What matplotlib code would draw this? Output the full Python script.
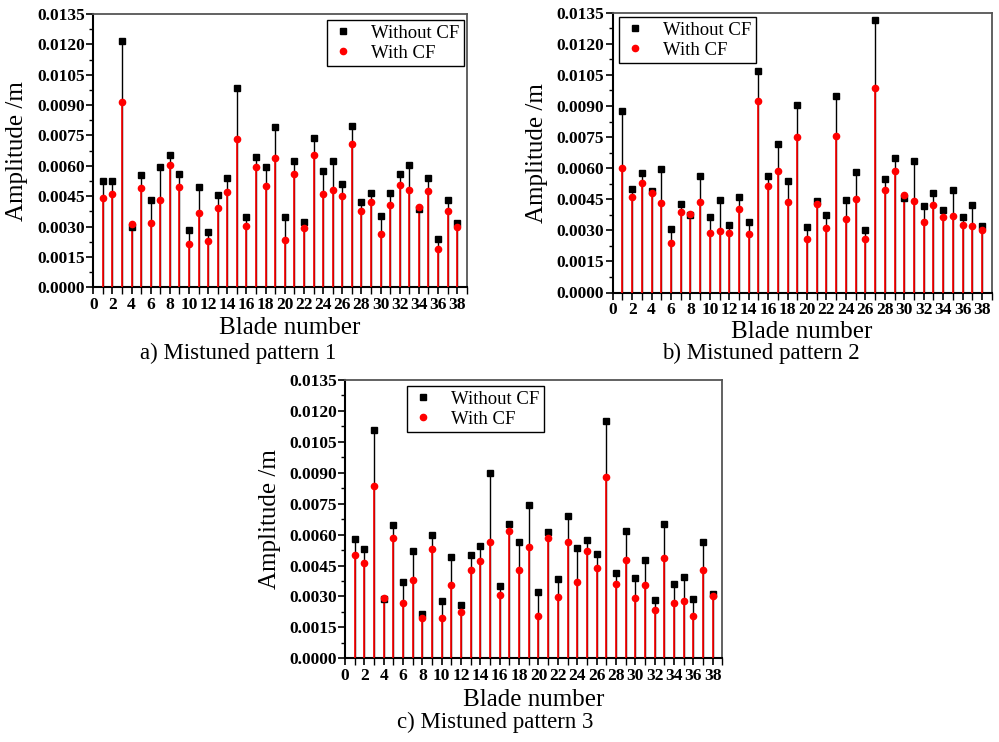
import matplotlib
matplotlib.use("Agg")
import matplotlib.pyplot as plt
import numpy as np
from matplotlib.ticker import MultipleLocator, FormatStrFormatter
from matplotlib.lines import Line2D

plt.rcParams['font.family'] = ['Liberation Serif', 'DejaVu Serif']

blades = np.arange(1, 39)

# mistuned pattern 1
p1_without = [0.00523, 0.00527, 0.01218, 0.00300, 0.00555, 0.00433, 0.00593, 0.00652, 0.00560, 0.00283,
              0.00494, 0.00273, 0.00454, 0.00540, 0.00983, 0.00347, 0.00644, 0.00594, 0.00790, 0.00346,
              0.00622, 0.00324, 0.00737, 0.00573, 0.00624, 0.00512, 0.00795, 0.00420, 0.00467, 0.00352,
              0.00466, 0.00560, 0.00606, 0.00385, 0.00542, 0.00240, 0.00431, 0.00319]
p1_with = [0.00441, 0.00459, 0.00914, 0.00314, 0.00489, 0.00319, 0.00431, 0.00602, 0.00497, 0.00216,
           0.00365, 0.00229, 0.00393, 0.00469, 0.00732, 0.00305, 0.00593, 0.00502, 0.00640, 0.00234,
           0.00561, 0.00295, 0.00653, 0.00462, 0.00479, 0.00451, 0.00708, 0.00375, 0.00421, 0.00265,
           0.00408, 0.00507, 0.00479, 0.00398, 0.00477, 0.00188, 0.00379, 0.00298]

# mistuned pattern 2
p2_without = [0.00876, 0.00500, 0.00577, 0.00490, 0.00596, 0.00304, 0.00426, 0.00374, 0.00562, 0.00363,
              0.00448, 0.00325, 0.00460, 0.00342, 0.01067, 0.00562, 0.00718, 0.00538, 0.00905, 0.00315,
              0.00440, 0.00376, 0.00947, 0.00444, 0.00583, 0.00301, 0.01315, 0.00550, 0.00648, 0.00458,
              0.00635, 0.00416, 0.00479, 0.00397, 0.00493, 0.00365, 0.00424, 0.00323]
p2_with = [0.00599, 0.00461, 0.00530, 0.00482, 0.00434, 0.00238, 0.00389, 0.00379, 0.00435, 0.00286,
           0.00297, 0.00286, 0.00403, 0.00283, 0.00922, 0.00514, 0.00587, 0.00437, 0.00749, 0.00260,
           0.00429, 0.00310, 0.00754, 0.00357, 0.00450, 0.00256, 0.00988, 0.00495, 0.00588, 0.00469,
           0.00442, 0.00339, 0.00423, 0.00366, 0.00368, 0.00325, 0.00321, 0.00302]

# mistuned pattern 3
p3_without = [0.00580, 0.00530, 0.01109, 0.00286, 0.00647, 0.00369, 0.00521, 0.00217, 0.00600, 0.00278,
              0.00492, 0.00260, 0.00503, 0.00543, 0.00897, 0.00349, 0.00652, 0.00563, 0.00745, 0.00323,
              0.00611, 0.00386, 0.00692, 0.00535, 0.00572, 0.00506, 0.01150, 0.00414, 0.00618, 0.00390,
              0.00475, 0.00285, 0.00652, 0.00362, 0.00396, 0.00286, 0.00564, 0.00310]
p3_with = [0.00503, 0.00462, 0.00834, 0.00294, 0.00585, 0.00270, 0.00378, 0.00194, 0.00530, 0.00194,
           0.00356, 0.00225, 0.00430, 0.00472, 0.00563, 0.00306, 0.00618, 0.00427, 0.00538, 0.00205,
           0.00584, 0.00299, 0.00564, 0.00370, 0.00521, 0.00438, 0.00880, 0.00362, 0.00477, 0.00294,
           0.00354, 0.00233, 0.00485, 0.00270, 0.00280, 0.00205, 0.00427, 0.00304]

captions = ['a) Mistuned pattern 1', 'b) Mistuned pattern 2', 'c) Mistuned pattern 3']

W, H = 999, 742
fig = plt.figure(figsize=(9.99, 7.42), dpi=100)

def px(x, y):
    return x / W, 1 - y / H

# axes boxes in pixels: left, top, right, bottom
boxes = [(93.3, 14, 466.7, 287.3), (612.7, 12.7, 991.7, 292.5), (345, 380, 722.3, 658.3)]
legpos = [(327, 20), (619, 17), (407, 386)]
xlab = [(290, 328), (802, 332), (534, 700)]
ylab = [(17, 151), (537, 153), (270, 519)]
cap = [(238, 353), (761, 353), (495, 722)]
data = [(p1_without, p1_with), (p2_without, p2_with), (p3_without, p3_with)]

for i in range(3):
    l, t, r, b = boxes[i]
    ax = fig.add_axes([l / W, 1 - b / H, (r - l) / W, (b - t) / H])
    wo, wi = data[i]
    ax.vlines(blades, 0, wo, color='black', lw=1.0, zorder=2)
    ax.vlines(blades, 0, wi, color='red', lw=1.2, zorder=3)
    ax.plot(blades, wo, 's', color='black', ms=4, zorder=4)
    ax.plot(blades, wi, 'o', color='red', ms=4.5, zorder=5)

    ax.set_xlim(0, 39)
    ax.set_ylim(0, 0.0135)
    ax.xaxis.set_major_locator(MultipleLocator(2))
    ax.xaxis.set_minor_locator(MultipleLocator(1))
    ax.yaxis.set_major_locator(MultipleLocator(0.0015))
    ax.yaxis.set_minor_locator(MultipleLocator(0.00075))
    ax.yaxis.set_major_formatter(FormatStrFormatter('%.4f'))
    ax.tick_params(which='major', direction='out', length=5, width=1.2, labelsize=12.5, pad=1)
    ax.tick_params(which='minor', direction='out', length=3, width=1.0)
    ax.tick_params(axis='x', which='major', length=5, pad=2)
    ax.tick_params(axis='x', which='minor', length=5)
    for lab in ax.get_xticklabels() + ax.get_yticklabels():
        lab.set_fontweight('bold')
    for s in ['left', 'bottom']:
        ax.spines[s].set_linewidth(1.5)
        ax.spines[s].set_color('black')
    for s in ['top', 'right']:
        ax.spines[s].set_linewidth(1.3)
        ax.spines[s].set_color('#555555')

    handles = [Line2D([], [], ls='none', marker='s', color='black', ms=4),
               Line2D([], [], ls='none', marker='o', color='red', ms=4.5)]
    fig.legend(handles, ['Without CF', 'With CF'], loc='upper left',
               bbox_to_anchor=px(*legpos[i]), bbox_transform=fig.transFigure,
               borderaxespad=0, fontsize=13.5, frameon=True, fancybox=False,
               edgecolor='black', framealpha=1, handlelength=1.2, handletextpad=0.9,
               borderpad=0.25, labelspacing=0.15)

    fig.text(*px(*xlab[i]), 'Blade number', fontsize=18, ha='center', va='center')
    fig.text(*px(*ylab[i]), 'Amplitude /m', fontsize=18, ha='center', va='center', rotation=90)
    fig.text(*px(*cap[i]), captions[i], fontsize=16.5, ha='center', va='center')

fig.savefig('out.png', dpi=100)
